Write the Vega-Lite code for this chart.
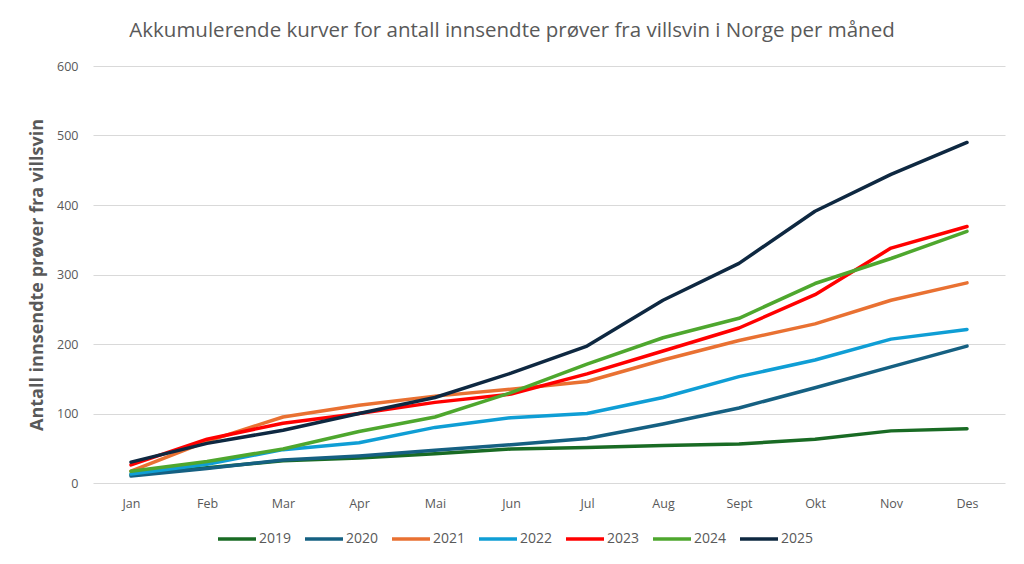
{
  "$schema": "https://vega.github.io/schema/vega-lite/v6.json",
  "autosize": {"type": "none"},
  "padding": {"left": 93, "top": 66, "right": 19, "bottom": 81},
  "width": 912,
  "height": 417,
  "background": "white",
  "config": {
    "font": "Open Sans",
    "view": {"stroke": null},
    "axis": {"labelColor": "#595959", "labelFontSize": 12.5, "titleColor": "#595959"}
  },
  "title": {
    "text": "Akkumulerende kurver for antall innsendte prøver fra villsvin i Norge per måned",
    "fontSize": 20.5,
    "fontWeight": "normal",
    "color": "#595959",
    "anchor": "middle",
    "dx": -37,
    "offset": 19
  },
  "data": {
    "values": [
      {"month": "Jan", "year": "2019", "value": 12}, {"month": "Feb", "year": "2019", "value": 22}, {"month": "Mar", "year": "2019", "value": 32},
      {"month": "Apr", "year": "2019", "value": 36}, {"month": "Mai", "year": "2019", "value": 42}, {"month": "Jun", "year": "2019", "value": 49},
      {"month": "Jul", "year": "2019", "value": 51}, {"month": "Aug", "year": "2019", "value": 54}, {"month": "Sept", "year": "2019", "value": 56},
      {"month": "Okt", "year": "2019", "value": 63}, {"month": "Nov", "year": "2019", "value": 75}, {"month": "Des", "year": "2019", "value": 78},

      {"month": "Jan", "year": "2020", "value": 10}, {"month": "Feb", "year": "2020", "value": 21}, {"month": "Mar", "year": "2020", "value": 33},
      {"month": "Apr", "year": "2020", "value": 39}, {"month": "Mai", "year": "2020", "value": 47}, {"month": "Jun", "year": "2020", "value": 55},
      {"month": "Jul", "year": "2020", "value": 64}, {"month": "Aug", "year": "2020", "value": 85}, {"month": "Sept", "year": "2020", "value": 108},
      {"month": "Okt", "year": "2020", "value": 137}, {"month": "Nov", "year": "2020", "value": 167}, {"month": "Des", "year": "2020", "value": 197},

      {"month": "Jan", "year": "2021", "value": 17}, {"month": "Feb", "year": "2021", "value": 60}, {"month": "Mar", "year": "2021", "value": 95},
      {"month": "Apr", "year": "2021", "value": 112}, {"month": "Mai", "year": "2021", "value": 125}, {"month": "Jun", "year": "2021", "value": 135},
      {"month": "Jul", "year": "2021", "value": 146}, {"month": "Aug", "year": "2021", "value": 177}, {"month": "Sept", "year": "2021", "value": 205},
      {"month": "Okt", "year": "2021", "value": 229}, {"month": "Nov", "year": "2021", "value": 263}, {"month": "Des", "year": "2021", "value": 288},

      {"month": "Jan", "year": "2022", "value": 13}, {"month": "Feb", "year": "2022", "value": 27}, {"month": "Mar", "year": "2022", "value": 48},
      {"month": "Apr", "year": "2022", "value": 58}, {"month": "Mai", "year": "2022", "value": 80}, {"month": "Jun", "year": "2022", "value": 94},
      {"month": "Jul", "year": "2022", "value": 100}, {"month": "Aug", "year": "2022", "value": 123}, {"month": "Sept", "year": "2022", "value": 153},
      {"month": "Okt", "year": "2022", "value": 177}, {"month": "Nov", "year": "2022", "value": 207}, {"month": "Des", "year": "2022", "value": 221},

      {"month": "Jan", "year": "2023", "value": 26}, {"month": "Feb", "year": "2023", "value": 63}, {"month": "Mar", "year": "2023", "value": 86},
      {"month": "Apr", "year": "2023", "value": 100}, {"month": "Mai", "year": "2023", "value": 116}, {"month": "Jun", "year": "2023", "value": 128},
      {"month": "Jul", "year": "2023", "value": 157}, {"month": "Aug", "year": "2023", "value": 190}, {"month": "Sept", "year": "2023", "value": 223},
      {"month": "Okt", "year": "2023", "value": 271}, {"month": "Nov", "year": "2023", "value": 338}, {"month": "Des", "year": "2023", "value": 369},

      {"month": "Jan", "year": "2024", "value": 17}, {"month": "Feb", "year": "2024", "value": 31}, {"month": "Mar", "year": "2024", "value": 49},
      {"month": "Apr", "year": "2024", "value": 74}, {"month": "Mai", "year": "2024", "value": 95}, {"month": "Jun", "year": "2024", "value": 130},
      {"month": "Jul", "year": "2024", "value": 171}, {"month": "Aug", "year": "2024", "value": 209}, {"month": "Sept", "year": "2024", "value": 237},
      {"month": "Okt", "year": "2024", "value": 287}, {"month": "Nov", "year": "2024", "value": 323}, {"month": "Des", "year": "2024", "value": 362},

      {"month": "Jan", "year": "2025", "value": 30}, {"month": "Feb", "year": "2025", "value": 57}, {"month": "Mar", "year": "2025", "value": 76},
      {"month": "Apr", "year": "2025", "value": 100}, {"month": "Mai", "year": "2025", "value": 123}, {"month": "Jun", "year": "2025", "value": 158},
      {"month": "Jul", "year": "2025", "value": 197}, {"month": "Aug", "year": "2025", "value": 263}, {"month": "Sept", "year": "2025", "value": 316},
      {"month": "Okt", "year": "2025", "value": 391}, {"month": "Nov", "year": "2025", "value": 444}, {"month": "Des", "year": "2025", "value": 490}
    ]
  },
  "mark": {"type": "line", "strokeWidth": 3.5, "strokeCap": "round", "strokeJoin": "round"},
  "encoding": {
    "x": {
      "field": "month",
      "type": "ordinal",
      "sort": ["Jan", "Feb", "Mar", "Apr", "Mai", "Jun", "Jul", "Aug", "Sept", "Okt", "Nov", "Des"],
      "scale": {"type": "point", "padding": 0.5},
      "axis": {"title": null, "labelAngle": 0, "ticks": false, "domain": false, "labelPadding": 14}
    },
    "y": {
      "field": "value",
      "type": "quantitative",
      "scale": {"domain": [0, 600], "nice": false},
      "axis": {
        "title": "Antall innsendte prøver fra villsvin",
        "titleFontSize": 18,
        "titleFontWeight": "bold",
        "titlePadding": 10,
        "values": [0, 100, 200, 300, 400, 500, 600],
        "ticks": false,
        "domain": false,
        "gridColor": "#d9d9d9",
        "labelPadding": 15
      }
    },
    "color": {
      "field": "year",
      "type": "nominal",
      "scale": {
        "domain": ["2019", "2020", "2021", "2022", "2023", "2024", "2025"],
        "range": ["#196B24", "#156082", "#E97132", "#0F9ED5", "#FF0000", "#4EA72E", "#0E2841"]
      },
      "legend": {
        "title": null,
        "orient": "none",
        "direction": "horizontal",
        "legendX": 123,
        "legendY": 452,
        "symbolType": "stroke",
        "symbolStrokeWidth": 3.5,
        "symbolSize": 1444,
        "labelFontSize": 14,
        "labelColor": "#595959",
        "columnPadding": 6,
        "labelOffset": 1
      }
    }
  }
}
